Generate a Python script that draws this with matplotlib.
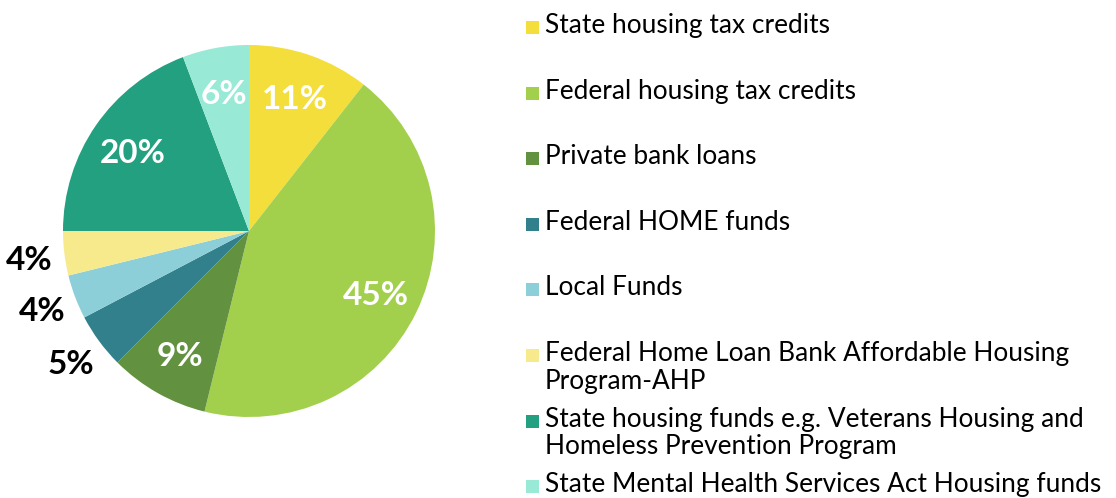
import numpy as np
import matplotlib
matplotlib.use("Agg")
import matplotlib.pyplot as plt
from matplotlib.patches import Rectangle

# --- dados ---
categorias = [
    "State housing tax credits",
    "Federal housing tax credits",
    "Private bank loans",
    "Federal HOME funds",
    "Local Funds",
    "Federal Home Loan Bank Affordable Housing\nProgram-AHP",
    "State housing funds e.g. Veterans Housing and\nHomeless Prevention Program",
    "State Mental Health Services Act Housing funds",
]
valores = [11, 45, 9, 5, 4, 4, 20, 6]
rotulos = ["11%", "45%", "9%", "5%", "4%", "4%", "20%", "6%"]
cores = ["#F4DE3B", "#A3D04C", "#62913F", "#32808B",
         "#8DCFD9", "#F7EA8C", "#22A080", "#99E9D7"]
fora = [False, False, False, True, True, True, False, False]

plt.rcParams["font.family"] = ["Lato", "DejaVu Sans"]

W, H = 1116, 498
fig = plt.figure(figsize=(W / 100, H / 100), dpi=100)

# --- pizza ---
ax = fig.add_axes([63 / W, 81 / H, 372 / W, 372 / H])
wedges, _ = ax.pie(valores, colors=cores, startangle=90, counterclock=False,
                   radius=1.0, wedgeprops=dict(linewidth=0))
ax.set_xlim(-1, 1)
ax.set_ylim(-1, 1)
ax.set_aspect("equal")
ax.axis("off")

for w, txt, out in zip(wedges, rotulos, fora):
    ang = np.deg2rad((w.theta1 + w.theta2) / 2)
    r = 1.19 if out else 0.76
    ax.text(r * np.cos(ang), r * np.sin(ang), txt,
            ha="center", va="center_baseline", fontsize=24, fontweight="bold",
            color="black" if out else "white", clip_on=False)

# --- legenda manual (cada item ocupa o mesmo espaço) ---
y0 = 26
passo = 65.6
for i, (cat, cor) in enumerate(zip(categorias, cores)):
    y = y0 + i * passo
    fig.patches.append(Rectangle((526 / W, 1 - (y + 8) / H), 13 / W, 13 / H,
                                 transform=fig.transFigure, facecolor=cor,
                                 edgecolor="none"))
    fig.text(545 / W, 1 - (y - 13) / H, cat, ha="left", va="top",
             fontsize=18.9, color="black", linespacing=1.13)

fig.savefig("out.png", dpi=100)
